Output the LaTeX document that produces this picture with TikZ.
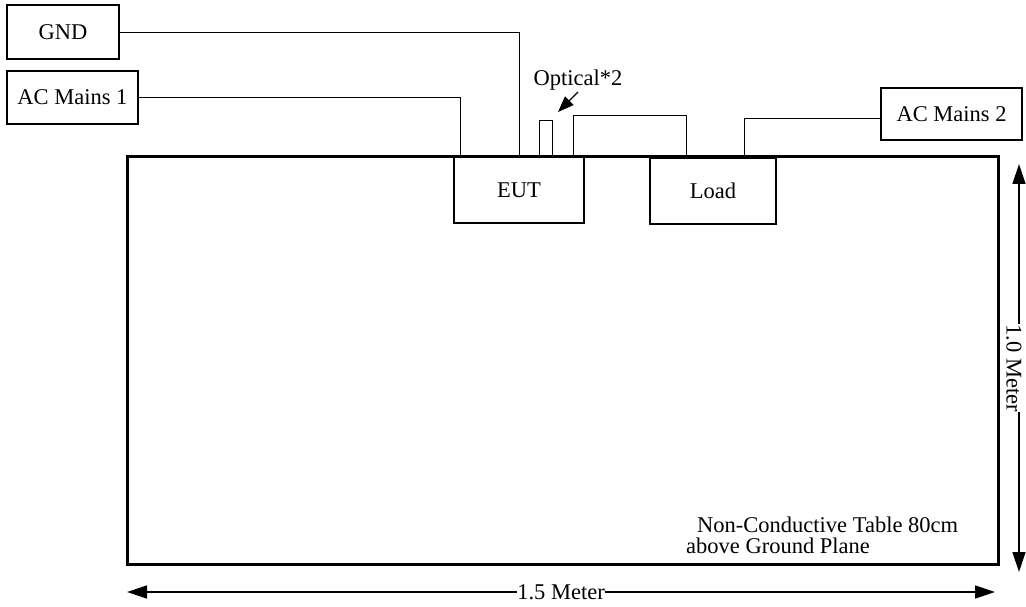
\documentclass[tikz,border=0pt]{standalone}
\usepackage{fontspec}
\setmainfont{Liberation Serif}
\usetikzlibrary{arrows.meta}

\begin{document}
\begin{tikzpicture}[
    x=1pt, y=-1pt,
    box/.style={rectangle, draw, line width=1.2pt, inner sep=0pt, font=\fontsize{22.5}{27}\selectfont},
    wire/.style={line width=0.9pt},
    dim/.style={{Triangle[length=20pt,width=13pt]}-{Triangle[length=20pt,width=13pt]}, line width=1.5pt},
    dimlabel/.style={fill=white, inner sep=0pt, font=\fontsize{22.5}{27}\selectfont},
    note/.style={font=\fontsize{22.5}{21}\selectfont, inner sep=0pt},
]
\useasboundingbox (0,0) rectangle (1026,607);

% ====== Table ======
\node[rectangle, draw, line width=3pt, minimum width=871pt, minimum height=407pt, inner sep=0pt] (table) at (562.5,360.5) {};
\node[note, align=left, anchor=west] (tablenote) at (686,535) {\hspace{11pt}Non-Conductive Table 80cm\\above Ground Plane};

% ====== Equipment ======
\node[box, minimum width=112pt, minimum height=54pt] (gnd) at (63,32) {GND};
\node[box, minimum width=131pt, minimum height=53pt] (mainsA) at (72.5,97.5) {AC Mains 1};
\node[box, minimum width=130pt, minimum height=66pt] (eut) at (519,190) {EUT};
\node[box, minimum width=126pt, minimum height=66pt] (load) at (713,191) {Load};
\node[box, minimum width=141pt, minimum height=52pt] (mainsB) at (951.5,114) {AC Mains 2};
\node[rectangle, draw, line width=0.9pt, minimum width=13pt, minimum height=37pt, inner sep=0pt] (fibre) at (545.5,138.5) {};

% ====== Wiring ======
\coordinate (eutA) at (460,157);
\coordinate (eutL) at (573,157);
\coordinate (loadE) at (686,157);
\coordinate (loadB) at (744,157);

\draw[wire] (gnd.east) -| (eut.north);
\draw[wire] (mainsA.east) -| (eutA);
\draw[wire] (eutL) -- ++(0,-42) -| (loadE);
\draw[wire] (loadB) |- ([yshift=-4pt]mainsB.west);

% ====== Optical ======
\node[font=\fontsize{22.5}{27}\selectfont, inner sep=1pt, anchor=base] (optlbl) at (578,86) {Optical*2};
\coordinate (optTip) at (558,112);
\draw[-{Triangle[length=16pt,width=12pt]}, line width=1.2pt] (optlbl.south) -- (optTip);

% ====== Dimensions ======
\coordinate (hL) at (127,592);
\coordinate (hR) at (995,592);
\coordinate (vT) at (1019,164);
\coordinate (vB) at (1019,572);
\draw[dim] (hL) -- node[dimlabel] {1.5 Meter} (hR);
\draw[dim] (vT) -- (vB);
\node[dimlabel, rotate=-90] (vlbl) at (1014,368) {1.0 Meter};

\end{tikzpicture}
\end{document}
